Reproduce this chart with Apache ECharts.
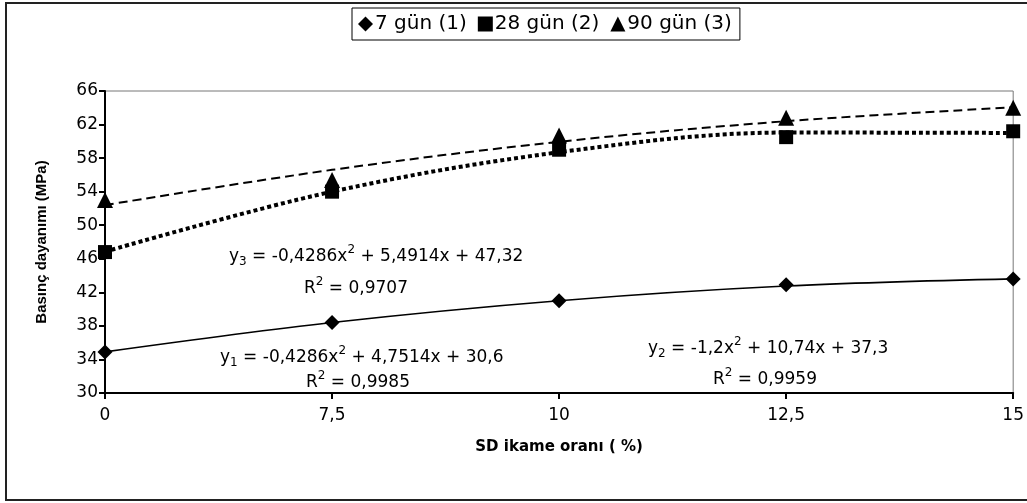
<!DOCTYPE html>
<html><head><meta charset="utf-8">
<script src="https://cdn.jsdelivr.net/npm/echarts@6/dist/echarts.min.js"></script>
<style>html,body{margin:0;padding:0;background:#fff}#c{width:1027px;height:503px}</style>
</head><body><div id="c"></div>
<script>
const categories = ['0', '7,5', '10', '12,5', '15'];
const seriesNames = ['7 gün (1)', '28 gün (2)', '90 gün (3)'];
const gun7 = [34.9, 38.4, 41.0, 42.9, 43.6];
const gun28 = [46.8, 54.0, 59.0, 60.5, 61.2];
const gun90 = [53.0, 55.4, 60.7, 62.8, 64.0];
// trend line values read at each category
const trend7 = [34.9, 38.4, 41.0, 42.75, 43.6];
const trend28 = [46.85, 54.0, 58.7, 61.05, 61.0];
const trend90 = [52.4, 56.6, 59.95, 62.4, 64.05];
const yTicks = [30, 34, 38, 42, 46, 50, 54, 58, 62, 66];

const chart = echarts.init(document.getElementById('c'));
const F = 'DejaVu Sans';
const FA = 'Liberation Sans';
const rich = {
  n: {fontSize: 17, fontFamily: F, color: '#000', lineHeight: 22, verticalAlign: 'bottom'},
  sub: {fontSize: 12, fontFamily: F, color: '#000', lineHeight: 22, verticalAlign: 'bottom', padding: [0, 0, -3, 0]},
  sup: {fontSize: 12, fontFamily: F, color: '#000', lineHeight: 22, verticalAlign: 'top', padding: [1, 0, 0, 0]}
};
function eq(x, y, text) {
  return {type: 'text', left: x, top: y, z: 100, style: {text: text, rich: rich, fill: '#000'}};
}
chart.setOption({
  animation: false,
  backgroundColor: '#fff',
  grid: {left: 105, right: 13, top: 91, bottom: 110, show: true, borderColor: '#777', borderWidth: 1},
  legend: {
    data: seriesNames.map((n, i) => ({name: n, icon: ['diamond', 'rect', 'triangle'][i], itemStyle: {color: '#000', opacity: 1}})),
    top: 8, left: 352, itemWidth: 15, itemHeight: 15, itemGap: 11,
    borderColor: '#000', borderWidth: 1, padding: [6, 8, 6, 6],
    textStyle: {fontFamily: F, fontSize: 20, color: '#000', padding: [0, 0, 0, -3]}
  },
  xAxis: {
    type: 'category', data: categories, boundaryGap: false,
    name: 'SD ikame oranı ( %)', nameLocation: 'middle', nameGap: 47,
    nameTextStyle: {fontFamily: F, fontSize: 15, fontWeight: 'bold', color: '#000'},
    axisLine: {lineStyle: {color: '#000', width: 2}},
    axisTick: {show: true, alignWithLabel: true, length: 6, lineStyle: {color: '#000', width: 2}},
    axisLabel: {fontFamily: F, fontSize: 17, color: '#000', margin: 14},
    splitLine: {show: false}
  },
  yAxis: {
    type: 'value', min: 30, max: 66, interval: 4,
    name: 'Basınç dayanımı (MPa)', nameLocation: 'middle', nameGap: 56,
    nameTextStyle: {fontFamily: FA, fontSize: 15, fontWeight: 'bold', color: '#000'},
    axisLine: {show: true, lineStyle: {color: '#000', width: 2}},
    axisTick: {show: true, length: 6, lineStyle: {color: '#000', width: 2}},
    axisLabel: {fontFamily: F, fontSize: 17, color: '#000', margin: 7},
    splitLine: {show: false}
  },
  graphic: [
    {type: 'rect', shape: {x: 6, y: 3, width: 1030, height: 497}, style: {fill: null, stroke: '#222', lineWidth: 2}, z: -1, silent: true},
    eq(229, 243, '{n|y}{sub|3}{n| = -0,4286x}{sup|2}{n| + 5,4914x + 47,32}'),
    eq(304, 275, '{n|R}{sup|2}{n| = 0,9707}'),
    eq(220, 344, '{n|y}{sub|1}{n| = -0,4286x}{sup|2}{n| + 4,7514x + 30,6}'),
    eq(306, 369, '{n|R}{sup|2}{n| = 0,9985}'),
    eq(648, 335, '{n|y}{sub|2}{n| = -1,2x}{sup|2}{n| + 10,74x + 37,3}'),
    eq(713, 366, '{n|R}{sup|2}{n| = 0,9959}')
  ],
  series: [
    {name: 't7', type: 'line', data: trend7, smooth: 0.35, symbol: 'none', silent: true,
     lineStyle: {color: '#000', width: 1.6, type: 'solid'}, z: 2},
    {name: 't90', type: 'line', data: trend90, smooth: 0.35, symbol: 'none', silent: true,
     lineStyle: {color: '#000', width: 2, type: [9, 5]}, z: 2},
    {name: 't28', type: 'line', data: trend28, smooth: 0.35, symbol: 'none', silent: true,
     lineStyle: {color: '#000', width: 4, type: [4, 3], cap: 'butt'}, z: 2},
    {name: seriesNames[0], type: 'scatter', data: gun7, symbol: 'diamond', symbolSize: 15,
     itemStyle: {color: '#000', opacity: 1}, z: 5},
    {name: seriesNames[1], type: 'scatter', data: gun28, symbol: 'rect', symbolSize: 14,
     itemStyle: {color: '#000', opacity: 1}, z: 5},
    {name: seriesNames[2], type: 'scatter', data: gun90, symbol: 'triangle', symbolSize: 16,
     itemStyle: {color: '#000', opacity: 1}, z: 5}
  ]
});
</script></body></html>
